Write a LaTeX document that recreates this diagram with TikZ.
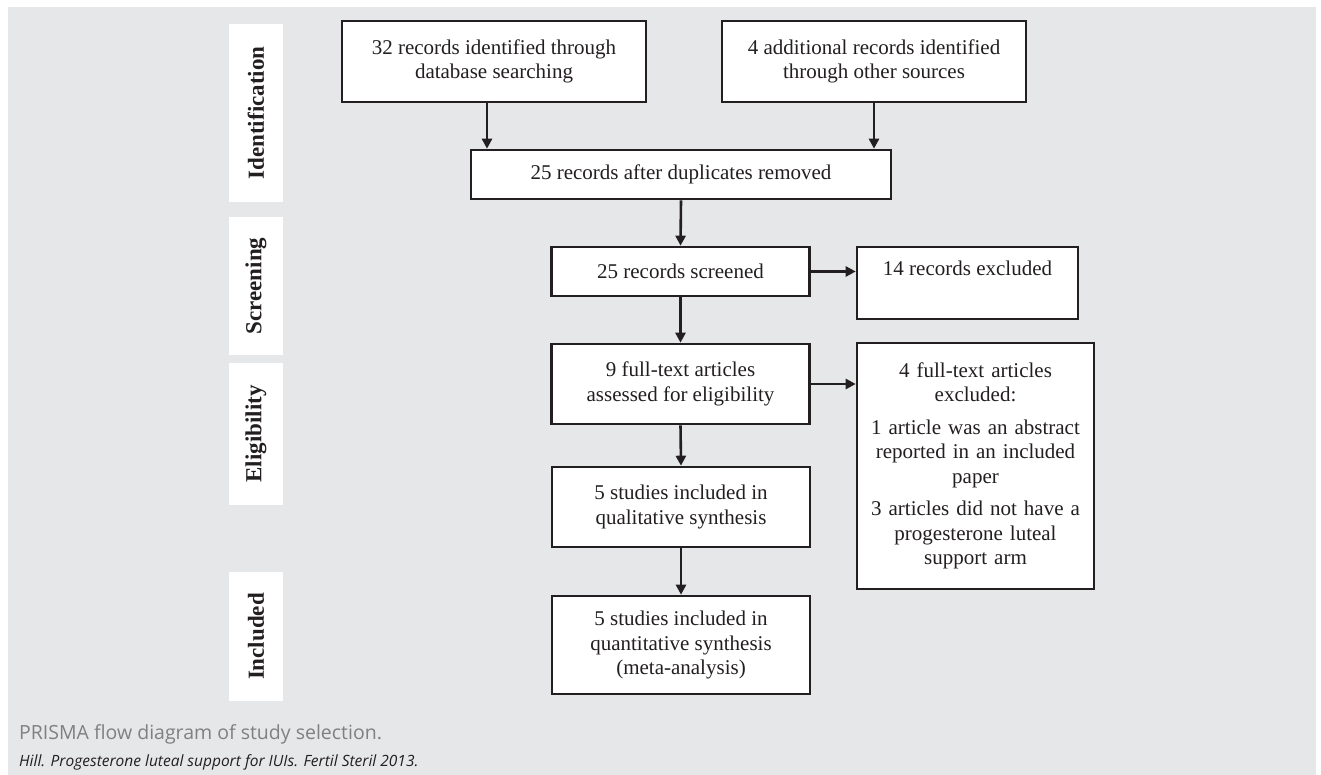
\documentclass[tikz,border=0pt]{standalone}
\usepackage{fontspec}
\setmainfont{Liberation Serif}
\newfontfamily\capfont{Open Sans}
\usetikzlibrary{arrows.meta,calc}
\definecolor{bggray}{RGB}{230,231,233}
\definecolor{ink}{RGB}{35,31,32}
\definecolor{capgray}{RGB}{128,128,130}
\tikzset{
  box/.style={draw=ink, line width=2.6pt, fill=white, align=center, inner sep=0pt,
     text=ink, font=\fontsize{21}{24.5}\selectfont},
  phase/.style={fill=white, draw=none, minimum width=54pt, inner sep=0pt,
     text=ink, font=\fontsize{23}{26}\selectfont\bfseries, rotate=90},
  arr/.style={draw=ink, line width=2.6pt, -{Triangle[length=10pt,width=10pt]}},
}
\begin{document}
\begin{tikzpicture}[x=1pt,y=-1pt]
\useasboundingbox (0,0) rectangle (1321,775);
\fill[white] (0,0) rectangle (1321,775);
\fill[bggray] (8,7) rectangle (1316,775);

% phase labels
\node[phase, minimum height=54pt, minimum width=178pt] (pid) at (256,113) {Identification};
\node[phase, minimum height=54pt, minimum width=138pt] (psc) at (256,286) {Screening};
\node[phase, minimum height=54pt, minimum width=142pt] (pel) at (256,434) {Eligibility};
\node[phase, minimum height=54pt, minimum width=129pt] (pin) at (256,636.5) {Included};

% boxes
\node[box, minimum width=304pt, minimum height=81pt] (A) at (494,61.5)
  {32 records identified through\\database searching};
\node[box, minimum width=304pt, minimum height=81pt] (B) at (874,61.5)
  {4 additional records identified\\through other sources};
\node[box, minimum width=420pt, minimum height=49pt] (C) at (681,174.5)
  {25 records after duplicates removed};
\node[box, minimum width=258pt, minimum height=49pt] (D) at (680.5,271.5)
  {25 records screened};
\node[box, minimum width=221pt, minimum height=72pt] (E) at (967.5,283)
  {14 records excluded\\[-2pt]\strut};
\node[box, minimum width=258pt, minimum height=80pt] (F) at (680.5,384)
  {9 full-text articles\\assessed for eligibility};
\node[box, minimum width=237pt, minimum height=246pt, text width=230pt] (G) at (975.5,466)
  {4 full-text articles\\excluded:\\[8pt]1 article was an abstract\\reported in an included\\paper\\[8pt]3 articles did not have a\\progesterone luteal\\support arm};
\node[box, minimum width=258pt, minimum height=80pt] (H) at (681,507)
  {5 studies included in\\qualitative synthesis};
\node[box, minimum width=258pt, minimum height=98pt] (I) at (681,645)
  {5 studies included in\\quantitative synthesis\\(meta-analysis)};

% connectors
\draw[arr] ([xshift=-7pt]A.south) -- ([xshift=-7pt]A.south |- C.north);
\draw[arr] (B.south) -- (B.south |- C.north);
\draw[arr] (C.south) -- (D.north);
\draw[arr] (D.east) -- (D.east -| E.west);
\draw[arr] (D.south) -- (F.north);
\draw[arr] (F.east) -- (F.east -| G.west);
\draw[arr] (F.south) -- (H.north);
\draw[arr] (H.south) -- (I.north);

% caption
\node[anchor=base west, inner sep=0pt, text=capgray, font=\capfont\fontsize{19.5}{22}\selectfont] (cap1) at (19,739)
  {PRISMA flow diagram of study selection.};
\node[anchor=base west, inner sep=0pt, text=ink, font=\capfont\itshape\fontsize{15.5}{18}\selectfont] (cap2) at (19,766)
  {Hill. Progesterone luteal support for IUIs. Fertil Steril 2013.};
\end{tikzpicture}
\end{document}
